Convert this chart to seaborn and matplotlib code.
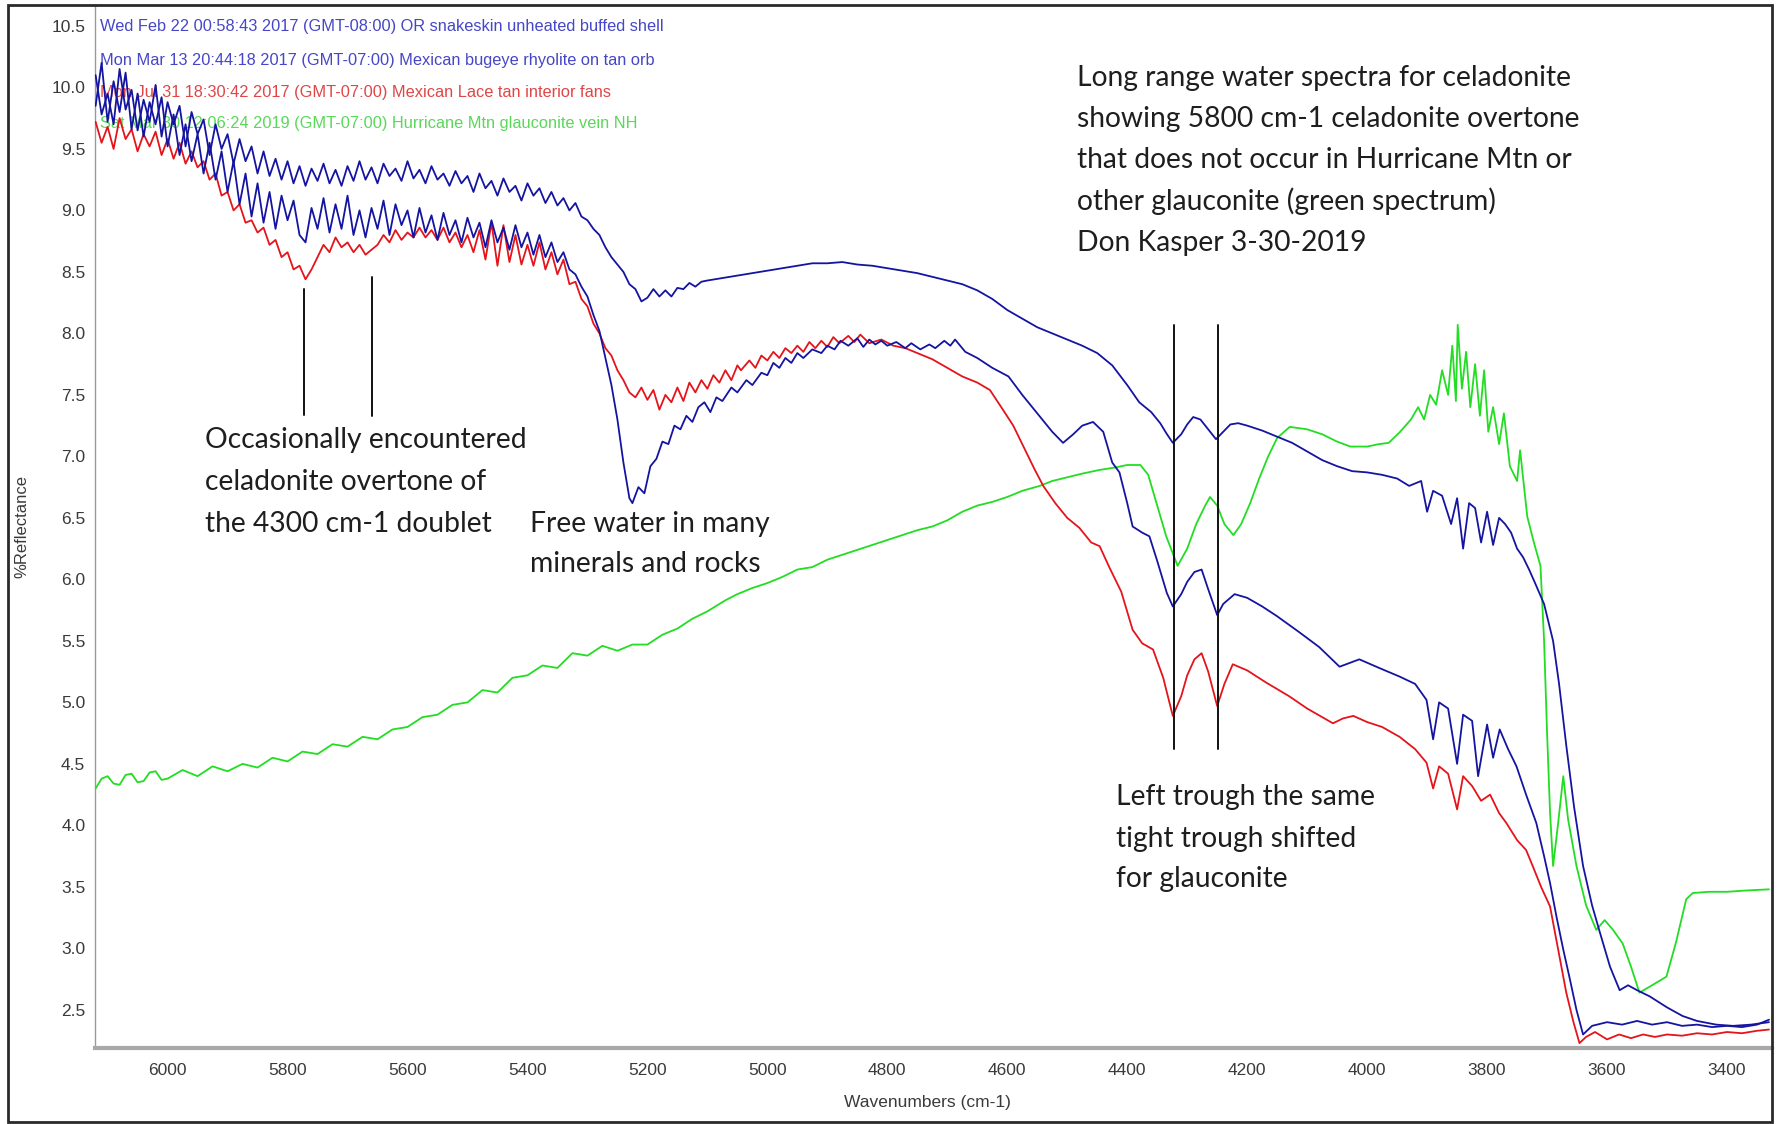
import matplotlib
matplotlib.use("Agg")
import matplotlib.pyplot as plt
from matplotlib.ticker import MultipleLocator, FormatStrFormatter
from matplotlib.patches import Rectangle
import seaborn as sns
import pandas as pd

# ---------------- data (wavenumber cm-1, % reflectance) ----------------
blue_top = [
    (6120, 10.10), (6110, 9.78), (6100, 9.95), (6090, 9.70), (6080, 10.15), (6070, 9.82),
    (6060, 9.98), (6050, 9.65), (6040, 9.90), (6030, 9.72), (6020, 10.02), (6010, 9.60),
    (6000, 9.88), (5990, 9.70), (5980, 9.85), (5970, 9.52), (5960, 9.80), (5950, 9.62),
    (5940, 9.74), (5930, 9.45), (5920, 9.70), (5910, 9.50), (5900, 9.62), (5890, 9.38),
    (5880, 9.58), (5870, 9.40), (5860, 9.52), (5850, 9.30), (5840, 9.48), (5830, 9.28),
    (5820, 9.42), (5810, 9.25), (5800, 9.40), (5790, 9.22), (5780, 9.36), (5770, 9.20),
    (5760, 9.34), (5750, 9.24), (5740, 9.38), (5730, 9.22), (5720, 9.33), (5710, 9.20),
    (5700, 9.36), (5690, 9.24), (5680, 9.40), (5670, 9.25), (5660, 9.35), (5650, 9.22),
    (5640, 9.38), (5630, 9.28), (5620, 9.34), (5610, 9.24), (5600, 9.40), (5590, 9.26),
    (5580, 9.33), (5570, 9.22), (5560, 9.36), (5550, 9.25), (5540, 9.30), (5530, 9.20),
    (5520, 9.32), (5510, 9.22), (5500, 9.28), (5490, 9.15), (5480, 9.30), (5470, 9.18),
    (5460, 9.24), (5450, 9.12), (5440, 9.26), (5430, 9.15), (5420, 9.20), (5410, 9.08),
    (5400, 9.22), (5390, 9.12), (5380, 9.18), (5370, 9.06), (5360, 9.15), (5350, 9.04),
    (5340, 9.10), (5330, 9.00), (5320, 9.06), (5310, 8.95), (5300, 8.92), (5290, 8.85),
    (5280, 8.80), (5270, 8.70), (5260, 8.62), (5250, 8.56),
    (5240, 8.50), (5230, 8.40), (5220, 8.36), (5210, 8.26), (5200, 8.29), (5190, 8.36),
    (5180, 8.30), (5170, 8.35), (5160, 8.30), (5150, 8.37), (5140, 8.36), (5130, 8.41),
    (5120, 8.38), (5110, 8.42), (5100, 8.43), (5075, 8.45), (5050, 8.47),
    (5025, 8.49), (5000, 8.51), (4975, 8.53), (4950, 8.55), (4925, 8.57), (4900, 8.57),
    (4875, 8.58), (4850, 8.56), (4825, 8.55), (4800, 8.53), (4775, 8.51), (4750, 8.49),
    (4725, 8.46), (4700, 8.43), (4675, 8.40), (4650, 8.35), (4625, 8.28), (4600, 8.19),
    (4575, 8.12), (4550, 8.05), (4525, 8.00), (4500, 7.95), (4475, 7.90), (4450, 7.84),
    (4425, 7.74), (4400, 7.58), (4380, 7.44), (4360, 7.36), (4345, 7.27), (4335, 7.19),
    (4324, 7.11), (4310, 7.18), (4300, 7.26), (4290, 7.32), (4278, 7.30), (4265, 7.22),
    (4252, 7.14), (4240, 7.20), (4228, 7.26), (4215, 7.27), (4200, 7.25), (4175, 7.21),
    (4150, 7.16), (4125, 7.11), (4100, 7.04), (4075, 6.97), (4050, 6.92), (4025, 6.88),
    (4000, 6.87), (3975, 6.85), (3950, 6.82), (3930, 6.76), (3910, 6.80), (3900, 6.55),
    (3890, 6.72), (3875, 6.68), (3860, 6.45), (3850, 6.66), (3840, 6.25), (3830, 6.62),
    (3820, 6.58), (3810, 6.30), (3800, 6.55), (3790, 6.28), (3780, 6.50), (3770, 6.45),
    (3760, 6.38), (3750, 6.25), (3740, 6.18), (3730, 6.08), (3720, 5.97), (3705, 5.80),
    (3690, 5.50), (3680, 5.15), (3668, 4.65), (3655, 4.15), (3640, 3.67), (3625, 3.35),
    (3612, 3.13), (3595, 2.85), (3579, 2.66), (3565, 2.70), (3550, 2.66), (3529, 2.61),
    (3500, 2.52), (3474, 2.45), (3450, 2.41), (3418, 2.38), (3390, 2.37), (3360, 2.38),
    (3330, 2.40),
]

blue_low = [
    (6120, 9.85), (6110, 10.20), (6100, 9.72), (6090, 10.05), (6080, 9.80), (6070, 10.12),
    (6060, 9.66), (6050, 9.95), (6040, 9.60), (6030, 9.88), (6020, 9.70), (6010, 9.92),
    (6000, 9.52), (5990, 9.78), (5980, 9.45), (5970, 9.70), (5960, 9.40), (5950, 9.62),
    (5940, 9.30), (5930, 9.55), (5920, 9.25), (5910, 9.48), (5900, 9.15), (5890, 9.40),
    (5880, 9.05), (5870, 9.30), (5860, 8.95), (5850, 9.22), (5840, 8.90), (5830, 9.15),
    (5820, 8.85), (5810, 9.12), (5800, 8.92), (5790, 9.08), (5780, 8.80), (5770, 8.74),
    (5760, 9.02), (5750, 8.85), (5740, 9.10), (5730, 8.82), (5720, 9.05), (5710, 8.85),
    (5700, 9.12), (5690, 8.80), (5680, 9.00), (5670, 8.78), (5660, 9.02), (5650, 8.85),
    (5640, 9.08), (5630, 8.80), (5620, 9.05), (5610, 8.88), (5600, 9.00), (5590, 8.78),
    (5580, 9.02), (5570, 8.82), (5560, 8.96), (5550, 8.76), (5540, 8.98), (5530, 8.80),
    (5520, 8.92), (5510, 8.74), (5500, 8.94), (5490, 8.78), (5480, 8.90), (5470, 8.70),
    (5460, 8.92), (5450, 8.74), (5440, 8.86), (5430, 8.68), (5420, 8.88), (5410, 8.70),
    (5400, 8.82), (5390, 8.64), (5380, 8.80), (5370, 8.62), (5360, 8.74), (5350, 8.58),
    (5340, 8.66), (5330, 8.52), (5320, 8.48), (5310, 8.38), (5300, 8.30), (5290, 8.15),
    (5280, 8.02), (5270, 7.80), (5260, 7.58), (5250, 7.30),
    (5240, 6.95), (5230, 6.66), (5225, 6.62), (5215, 6.75), (5205, 6.70), (5195, 6.92),
    (5185, 6.98), (5175, 7.12), (5165, 7.10), (5155, 7.25), (5145, 7.22), (5135, 7.33),
    (5125, 7.28), (5115, 7.40), (5105, 7.44), (5095, 7.36), (5085, 7.48), (5075, 7.45),
    (5060, 7.56), (5050, 7.52), (5035, 7.62), (5025, 7.58), (5010, 7.68), (5000, 7.66),
    (4990, 7.76), (4980, 7.72), (4970, 7.80), (4960, 7.76), (4950, 7.84), (4940, 7.80),
    (4925, 7.87), (4910, 7.84), (4900, 7.90), (4888, 7.87), (4878, 7.94), (4865, 7.90),
    (4850, 7.96), (4840, 7.89), (4830, 7.95), (4820, 7.91), (4810, 7.94), (4800, 7.90),
    (4785, 7.93), (4770, 7.88), (4760, 7.92), (4745, 7.87), (4730, 7.91), (4720, 7.88),
    (4705, 7.94), (4695, 7.90), (4687, 7.95), (4670, 7.85), (4650, 7.80), (4625, 7.72),
    (4598, 7.65), (4575, 7.50), (4550, 7.35), (4525, 7.20), (4507, 7.11), (4490, 7.18),
    (4475, 7.25), (4457, 7.28), (4440, 7.20), (4425, 6.95), (4413, 6.87), (4400, 6.62),
    (4391, 6.43), (4375, 6.38), (4363, 6.35), (4350, 6.15), (4334, 5.89), (4324, 5.78),
    (4310, 5.88), (4300, 5.98), (4288, 6.06), (4276, 6.08), (4265, 5.92), (4250, 5.71),
    (4240, 5.80), (4221, 5.88), (4200, 5.85), (4175, 5.78), (4150, 5.70), (4113, 5.57),
    (4080, 5.45), (4046, 5.29), (4013, 5.35), (3980, 5.28), (3946, 5.21), (3920, 5.15),
    (3901, 5.02), (3890, 4.70), (3880, 5.00), (3865, 4.95), (3850, 4.50), (3840, 4.90),
    (3825, 4.85), (3815, 4.40), (3800, 4.82), (3790, 4.55), (3779, 4.78), (3765, 4.62),
    (3751, 4.48), (3735, 4.25), (3718, 4.02), (3705, 3.75), (3695, 3.53), (3684, 3.25),
    (3673, 2.99), (3662, 2.75), (3651, 2.50), (3640, 2.30), (3625, 2.37), (3600, 2.40),
    (3575, 2.38), (3550, 2.41), (3525, 2.38), (3500, 2.40), (3475, 2.37), (3450, 2.38),
    (3425, 2.36), (3400, 2.37), (3375, 2.36), (3350, 2.38), (3330, 2.42),
]

red = [
    (6120, 9.72), (6110, 9.55), (6100, 9.68), (6090, 9.50), (6080, 9.75), (6070, 9.58),
    (6060, 9.66), (6050, 9.48), (6040, 9.62), (6030, 9.52), (6020, 9.64), (6010, 9.45),
    (6000, 9.58), (5990, 9.42), (5980, 9.55), (5970, 9.38), (5960, 9.48), (5950, 9.35),
    (5940, 9.40), (5930, 9.25), (5920, 9.30), (5910, 9.12), (5900, 9.15), (5890, 9.00),
    (5880, 9.05), (5870, 8.90), (5860, 8.92), (5850, 8.82), (5840, 8.86), (5830, 8.72),
    (5820, 8.76), (5810, 8.62), (5800, 8.66), (5790, 8.52), (5780, 8.55), (5770, 8.44),
    (5760, 8.52), (5750, 8.62), (5740, 8.72), (5730, 8.66), (5720, 8.78), (5710, 8.70),
    (5700, 8.74), (5690, 8.66), (5680, 8.72), (5670, 8.64), (5660, 8.68), (5650, 8.72),
    (5640, 8.80), (5630, 8.74), (5620, 8.84), (5610, 8.76), (5600, 8.82), (5590, 8.78),
    (5580, 8.86), (5570, 8.78), (5560, 8.84), (5550, 8.76), (5540, 8.86), (5530, 8.74),
    (5520, 8.82), (5510, 8.70), (5500, 8.80), (5490, 8.66), (5480, 8.84), (5470, 8.60),
    (5460, 8.90), (5450, 8.55), (5440, 8.88), (5430, 8.58), (5420, 8.80), (5410, 8.56),
    (5400, 8.72), (5390, 8.55), (5380, 8.74), (5370, 8.52), (5360, 8.66), (5350, 8.48),
    (5340, 8.60), (5330, 8.40), (5320, 8.42), (5310, 8.28), (5300, 8.22), (5290, 8.08),
    (5280, 8.00), (5270, 7.88), (5260, 7.82), (5250, 7.70),
    (5240, 7.62), (5230, 7.52), (5220, 7.48), (5210, 7.56), (5200, 7.46), (5190, 7.54),
    (5180, 7.38), (5170, 7.50), (5160, 7.44), (5150, 7.56), (5140, 7.45), (5130, 7.60),
    (5120, 7.52), (5110, 7.62), (5100, 7.55), (5090, 7.66), (5080, 7.60), (5070, 7.70),
    (5060, 7.62), (5050, 7.74), (5044, 7.70), (5030, 7.78), (5020, 7.72), (5010, 7.82),
    (5000, 7.78), (4990, 7.85), (4980, 7.80), (4970, 7.88), (4960, 7.84), (4950, 7.90),
    (4940, 7.85), (4930, 7.93), (4920, 7.88), (4910, 7.94), (4900, 7.89), (4890, 7.97),
    (4880, 7.92), (4865, 7.98), (4855, 7.93), (4845, 7.99), (4830, 7.92), (4810, 7.95),
    (4790, 7.90), (4770, 7.88), (4750, 7.84), (4725, 7.79),
    (4700, 7.72), (4675, 7.65), (4650, 7.60), (4629, 7.54), (4610, 7.40), (4590, 7.25),
    (4570, 7.05), (4555, 6.90), (4540, 6.76), (4520, 6.62), (4500, 6.50), (4480, 6.42),
    (4460, 6.30), (4446, 6.27), (4430, 6.10), (4410, 5.90), (4391, 5.59), (4375, 5.48),
    (4357, 5.43), (4340, 5.20), (4324, 4.89), (4310, 5.05), (4300, 5.22), (4288, 5.35),
    (4276, 5.40), (4265, 5.25), (4250, 4.97), (4238, 5.15), (4224, 5.31), (4200, 5.26),
    (4168, 5.16), (4130, 5.05), (4100, 4.95), (4075, 4.88), (4057, 4.83), (4040, 4.87),
    (4023, 4.89), (4000, 4.84), (3975, 4.80), (3946, 4.72), (3920, 4.62), (3901, 4.51),
    (3890, 4.30), (3880, 4.48), (3865, 4.42), (3850, 4.13), (3840, 4.40), (3825, 4.32),
    (3810, 4.20), (3795, 4.25), (3780, 4.10), (3768, 4.02), (3750, 3.88), (3735, 3.80),
    (3724, 3.67), (3710, 3.50), (3695, 3.34), (3680, 2.95), (3668, 2.64), (3656, 2.40),
    (3646, 2.23), (3635, 2.28), (3620, 2.32), (3600, 2.26), (3580, 2.30), (3560, 2.27),
    (3540, 2.30), (3520, 2.28), (3500, 2.30), (3475, 2.29), (3450, 2.31), (3425, 2.30),
    (3400, 2.32), (3375, 2.31), (3350, 2.33), (3330, 2.34),
]

green = [
    (6120, 4.30), (6110, 4.38), (6100, 4.40), (6090, 4.34), (6080, 4.33), (6070, 4.41),
    (6060, 4.42), (6050, 4.35), (6040, 4.36), (6030, 4.43), (6020, 4.44), (6010, 4.37),
    (6000, 4.38), (5975, 4.45), (5950, 4.40), (5925, 4.48), (5900, 4.44), (5875, 4.50),
    (5850, 4.47), (5825, 4.55), (5800, 4.52), (5775, 4.60), (5750, 4.58), (5725, 4.66),
    (5700, 4.64), (5675, 4.72), (5650, 4.70), (5625, 4.78), (5600, 4.80), (5575, 4.88),
    (5550, 4.90), (5525, 4.98), (5500, 5.00), (5475, 5.10), (5450, 5.08), (5425, 5.20),
    (5400, 5.22), (5375, 5.30), (5350, 5.28), (5325, 5.40), (5300, 5.38), (5275, 5.46),
    (5250, 5.42), (5225, 5.47), (5200, 5.47), (5175, 5.55), (5150, 5.60), (5125, 5.68),
    (5100, 5.74), (5070, 5.83), (5050, 5.88), (5025, 5.93), (5000, 5.97), (4975, 6.02),
    (4950, 6.08), (4925, 6.10), (4900, 6.16), (4875, 6.20), (4850, 6.24), (4825, 6.28),
    (4800, 6.32), (4775, 6.36), (4750, 6.40), (4725, 6.43), (4700, 6.48), (4675, 6.55),
    (4650, 6.60), (4625, 6.63), (4600, 6.67), (4575, 6.72), (4546, 6.76), (4525, 6.80),
    (4500, 6.83), (4475, 6.86), (4446, 6.89), (4420, 6.91), (4400, 6.93), (4378, 6.93),
    (4365, 6.85), (4350, 6.60), (4335, 6.35), (4316, 6.11), (4300, 6.25), (4285, 6.45),
    (4270, 6.60), (4262, 6.67), (4250, 6.60), (4238, 6.45), (4223, 6.36), (4210, 6.45),
    (4195, 6.62), (4180, 6.82), (4165, 7.00), (4150, 7.15), (4129, 7.24), (4100, 7.22),
    (4075, 7.18), (4050, 7.12), (4028, 7.08), (4000, 7.08), (3980, 7.10), (3964, 7.11),
    (3945, 7.20), (3927, 7.30), (3915, 7.40), (3905, 7.30), (3895, 7.50), (3885, 7.42),
    (3875, 7.70), (3865, 7.50), (3858, 7.90), (3852, 7.45), (3849, 8.07), (3842, 7.55),
    (3835, 7.85), (3828, 7.40), (3820, 7.75), (3812, 7.33), (3805, 7.70), (3798, 7.20),
    (3790, 7.40), (3780, 7.10), (3772, 7.35), (3762, 6.92), (3750, 6.80), (3745, 7.05),
    (3733, 6.51), (3722, 6.30), (3711, 6.11), (3705, 5.50), (3700, 4.75), (3695, 4.10),
    (3690, 3.67), (3682, 4.00), (3673, 4.40), (3665, 4.05), (3651, 3.67), (3635, 3.35),
    (3618, 3.15), (3604, 3.23), (3590, 3.15), (3574, 3.04), (3560, 2.85), (3546, 2.64),
    (3525, 2.70), (3501, 2.77), (3485, 3.05), (3468, 3.40), (3457, 3.45), (3430, 3.46),
    (3400, 3.46), (3370, 3.47), (3330, 3.48),
]

legend_labels = [
    "Wed Feb 22 00:58:43 2017 (GMT-08:00) OR snakeskin unheated buffed shell",
    "Mon Mar 13 20:44:18 2017 (GMT-07:00) Mexican bugeye rhyolite on tan orb",
    "Mon Jul 31 18:30:42 2017 (GMT-07:00) Mexican Lace tan interior fans",
    "Sat Mar 30 12:06:24 2019 (GMT-07:00) Hurricane Mtn glauconite vein NH",
]
legend_colors = ["#4646c8", "#4646c8", "#e04646", "#5ad85a"]

x_ticks = [6000, 5800, 5600, 5400, 5200, 5000, 4800, 4600, 4400, 4200, 4000, 3800, 3600, 3400]
y_ticks = [2.5, 3.0, 3.5, 4.0, 4.5, 5.0, 5.5, 6.0, 6.5, 7.0, 7.5, 8.0, 8.5, 9.0, 9.5, 10.0, 10.5]

# annotation lines: (wavenumber, y_start, y_end)
marker_lines = [(5773, 8.36, 7.34), (5660, 8.46, 7.33), (4322, 8.07, 4.62), (4249, 8.07, 4.62)]

note_main = ["Long range water spectra for celadonite",
             "showing 5800 cm-1 celadonite overtone",
             "that does not occur in Hurricane Mtn or",
             "other glauconite (green spectrum)",
             "Don Kasper 3-30-2019"]
note_overtone = ["Occasionally encountered", "celadonite overtone of", "the 4300 cm-1 doublet"]
note_water = ["Free water in many", "minerals and rocks"]
note_trough = ["Left trough the same", "tight trough shifted", "for glauconite"]

# ---------------- figure ----------------
sns.set_style("white")
plt.rcParams["font.family"] = ["Liberation Sans", "DejaVu Sans"]

W, H = 1777, 1124
fig = plt.figure(figsize=(W / 100, H / 100), dpi=100)
fig.patch.set_facecolor("white")
ax = fig.add_axes([95 / W, 1 - 1048 / H, (1772 - 95) / W, (1048 - 5) / H])

series = [("blue_top", blue_top, "#1414a0"), ("blue_low", blue_low, "#1414a0"),
          ("red", red, "#e4141a"), ("green", green, "#22dd22")]
order = ["green", "red", "blue_low", "blue_top"]
frames = {}
for name, pts, col in series:
    frames[name] = (pd.DataFrame(pts, columns=["wavenumber", "reflectance"]), col)
for name in order:
    df, col = frames[name]
    sns.lineplot(data=df, x="wavenumber", y="reflectance", ax=ax, color=col,
                 sort=False, estimator=None, lw=1.3, zorder=3)

ax.set_xlim(6121, 3325)
ax.set_ylim(2.19, 10.67)
ax.set_xticks(x_ticks)
ax.set_yticks(y_ticks)
ax.yaxis.set_major_formatter(FormatStrFormatter("%.1f"))
ax.xaxis.set_minor_locator(MultipleLocator(50))
ax.yaxis.set_minor_locator(MultipleLocator(0.1))
ax.tick_params(axis="both", which="major", labelsize=12.5, labelcolor="#3a3a3a",
               color="#333333", length=5, width=1)
ax.tick_params(axis="y", which="major", direction="out", pad=2)
ax.tick_params(axis="x", which="major", direction="inout", pad=8)
ax.tick_params(axis="both", which="minor", color="#333333", length=2.5, width=1.2)
ax.tick_params(axis="x", which="minor", direction="inout")
for s in ["top", "right"]:
    ax.spines[s].set_visible(False)
ax.spines["left"].set_color("#9a9a9a")
ax.spines["left"].set_linewidth(1.0)
ax.spines["left"].set_linestyle((0, (2, 1)))
ax.spines["bottom"].set_color("#a8a8a8")
ax.spines["bottom"].set_linewidth(3)
ax.set_xlabel("")
ax.set_ylabel("")
ax.grid(False)

# axis titles
fig.text(927 / W, 1 - 1103 / H, "Wavenumbers (cm-1)", ha="center", va="center",
         fontsize=12.5, color="#3a3a3a")
fig.text(22 / W, 1 - 527 / H, "%Reflectance", ha="center", va="center",
         rotation=90, fontsize=12, color="#3a3a3a")

# legend-like header text (drawn beneath the spectra)
for i, (lab, c) in enumerate(zip(legend_labels, legend_colors)):
    ax.text(100 / W, 1 - [27, 60, 92, 123.5][i] / H, lab, transform=fig.transFigure,
            ha="left", va="center", fontsize=11.8, color=c, zorder=1)

# marker lines
for xw, y0, y1 in marker_lines:
    ax.plot([xw, xw], [y0, y1], color="#111111", lw=1.4, zorder=4)

# annotations
ann_font = ["Lato", "DejaVu Sans"]
def block(lines, x_px, y_centers):
    for ln, yc in zip(lines, y_centers):
        fig.text(x_px / W, 1 - yc / H, ln, ha="left", va="center", fontsize=20.3,
                 color="#1e1e1e", family=ann_font)

block(note_main, 1077, [78, 119, 160, 201.5, 242.5])
block(note_overtone, 205, [440, 481.7, 523.6])
block(note_water, 530, [523.6, 564.4])
block(note_trough, 1116, [797, 838.6, 879.5])

# outer frame
fig.patches.append(Rectangle((8 / W, 2 / H), (1772 - 8) / W, (1119 - 2) / H,
                             transform=fig.transFigure, fill=False,
                             ec="#2a2a2a", lw=2, zorder=10))

fig.savefig("out.png", dpi=100, facecolor="white")
